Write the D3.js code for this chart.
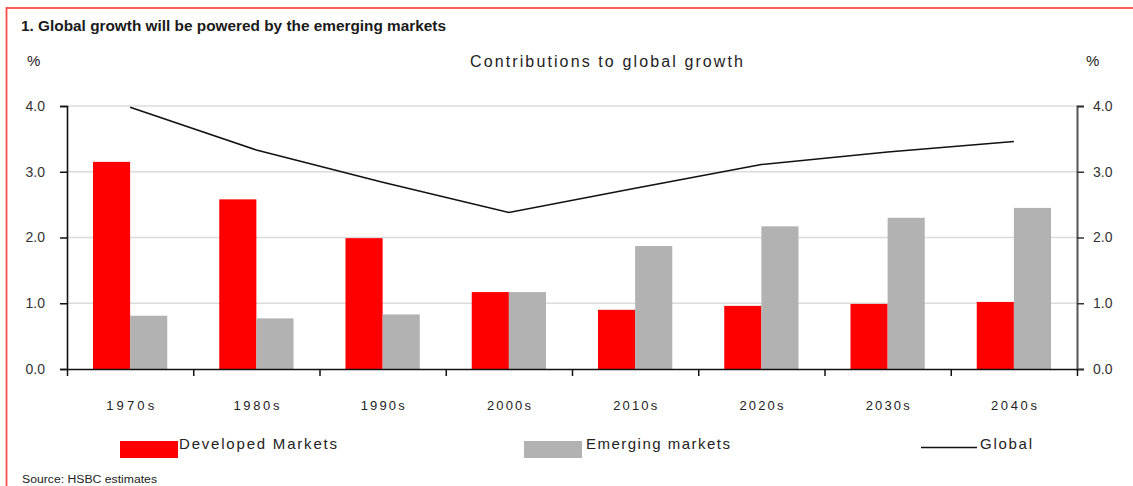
<!DOCTYPE html>
<html><head><meta charset="utf-8">
<script src="https://cdn.jsdelivr.net/npm/d3@7"></script>
<style>
html,body{margin:0;padding:0;background:#fff;}
svg{display:block;font-family:"Liberation Sans",Arial,sans-serif;}
</style></head>
<body>
<svg id="chart" width="1133" height="486"></svg>
<script>
const categories = ["1970s","1980s","1990s","2000s","2010s","2020s","2030s","2040s"];
const developed = [3.15, 2.58, 1.99, 1.17, 0.90, 0.96, 0.99, 1.02];
const emerging  = [0.81, 0.77, 0.83, 1.17, 1.87, 2.17, 2.30, 2.45];
const globalG   = [3.98, 3.33, 2.84, 2.38, 2.75, 3.11, 3.30, 3.46];
const yTicks = [0, 1, 2, 3, 4];
const seriesNames = ["Developed Markets", "Emerging markets", "Global"];
const labelWidths = [48, 46, 44, 44, 44, 44, 44, 46];

(function () {
const svg = d3.select("#chart");
const pLeft = 67, pRight = 1077, pTop = 106, pBottom = 369;

// red frame
svg.append("rect").attr("x", 6.5).attr("y", 8).attr("width", 1140).attr("height", 500)
  .attr("fill", "none").attr("stroke", "#ff4b4b").attr("stroke-width", 1.8);

// titles
svg.append("text").attr("x", 21).attr("y", 31).attr("font-size", 14).attr("font-weight", "bold")
  .attr("fill", "#1a1a1a").attr("textLength", 425).attr("lengthAdjust", "spacingAndGlyphs")
  .text("1. Global growth will be powered by the emerging markets");
svg.append("text").attr("x", 27).attr("y", 66).attr("font-size", 15).attr("fill", "#222").text("%");
svg.append("text").attr("x", 1086).attr("y", 66).attr("font-size", 15).attr("fill", "#222").text("%");
svg.append("text").attr("x", 470).attr("y", 67).attr("font-size", 16).attr("fill", "#222")
  .attr("textLength", 273).attr("lengthAdjust", "spacing").text("Contributions to global growth");

const x0 = d3.scaleBand().domain(categories).range([pLeft, pRight]).paddingInner(0).paddingOuter(0);
const x1 = d3.scaleBand().domain([0, 1]).range([0, x0.bandwidth()]).paddingInner(0).paddingOuter(0.7);
const y = d3.scaleLinear().domain([0, 4]).range([pBottom, pTop]);

// gridlines
svg.append("g").selectAll("line").data(yTicks.filter(d => d > 0)).join("line")
  .attr("x1", pLeft).attr("x2", pRight).attr("y1", d => y(d)).attr("y2", d => y(d))
  .attr("stroke", "#dcdcdc").attr("stroke-width", 1.5);

// bars
const data = categories.map((c, i) => ({ c, vals: [developed[i], emerging[i]] }));
const colors = ["#ff0000", "#b2b2b2"];
const groups = svg.append("g").selectAll("g").data(data).join("g")
  .attr("transform", d => `translate(${x0(d.c)},0)`);
groups.selectAll("rect").data(d => d.vals.map((v, k) => ({ v, k }))).join("rect")
  .attr("x", d => x1(d.k)).attr("width", x1.bandwidth())
  .attr("y", d => y(d.v)).attr("height", d => y(0) - y(d.v))
  .attr("fill", d => colors[d.k]);

// line
const line = d3.line().x((d, i) => x0(categories[i]) + x0.bandwidth() / 2).y(d => y(d));
svg.append("path").datum(globalG).attr("d", line).attr("fill", "none")
  .attr("stroke", "#111").attr("stroke-width", 1.6);

// left axis
const ly = svg.append("g").attr("transform", `translate(${pLeft},0)`)
  .call(d3.axisLeft(y).tickValues(yTicks).tickFormat(d3.format(".1f")).tickSize(7).tickPadding(15));
ly.select(".domain").attr("stroke", "#111").attr("stroke-width", 1.6);
ly.selectAll(".tick line").attr("stroke", "#111").attr("stroke-width", 1.5);
ly.selectAll("text").attr("font-size", 14).attr("fill", "#333").attr("font-family", "Liberation Sans, Arial, sans-serif");

// right axis
const ry = svg.append("g").attr("transform", `translate(${pRight},0)`)
  .call(d3.axisRight(y).tickValues(yTicks).tickFormat(d3.format(".1f")).tickSize(7).tickPadding(9));
ry.select(".domain").attr("stroke", "#555").attr("stroke-width", 2);
ry.selectAll(".tick line").attr("stroke", "#333").attr("stroke-width", 1.5);
ry.selectAll("text").attr("font-size", 14).attr("fill", "#333").attr("font-family", "Liberation Sans, Arial, sans-serif");

// bottom axis (boundary ticks)
const xb = d3.scaleLinear().domain([0, categories.length]).range([pLeft, pRight]);
const bx = svg.append("g").attr("transform", `translate(0,${pBottom})`)
  .call(d3.axisBottom(xb).ticks(categories.length).tickFormat("").tickSize(7).tickSizeOuter(0));
bx.select(".domain").attr("stroke", "#111").attr("stroke-width", 1.6);
bx.selectAll(".tick line").attr("stroke", "#111").attr("stroke-width", 1.5);

// category labels
const lx = svg.append("g").attr("transform", `translate(0,${pBottom})`)
  .call(d3.axisBottom(x0).tickSize(0).tickPadding(32));
lx.select(".domain").remove();
lx.selectAll("text").attr("font-size", 13).attr("fill", "#222")
  .attr("font-family", "Liberation Sans, Arial, sans-serif")
  .attr("textLength", (d, i) => labelWidths[i]).attr("lengthAdjust", "spacing");

// legend
const lg = svg.append("g");
lg.append("rect").attr("x", 120).attr("y", 441).attr("width", 58).attr("height", 17).attr("fill", colors[0]);
lg.append("text").attr("x", 179).attr("y", 449).attr("font-size", 15).attr("fill", "#222")
  .attr("textLength", 158).attr("lengthAdjust", "spacing").text(seriesNames[0]);
lg.append("rect").attr("x", 524).attr("y", 441).attr("width", 58).attr("height", 17).attr("fill", colors[1]);
lg.append("text").attr("x", 586).attr("y", 449).attr("font-size", 15).attr("fill", "#222")
  .attr("textLength", 144).attr("lengthAdjust", "spacing").text(seriesNames[1]);
lg.append("line").attr("x1", 921).attr("x2", 977).attr("y1", 447.5).attr("y2", 447.5)
  .attr("stroke", "#111").attr("stroke-width", 1.6);
lg.append("text").attr("x", 980).attr("y", 449).attr("font-size", 15).attr("fill", "#222")
  .attr("textLength", 52).attr("lengthAdjust", "spacing").text(seriesNames[2]);

// source
svg.append("text").attr("x", 22).attr("y", 483).attr("font-size", 10).attr("fill", "#222")
  .attr("textLength", 135).attr("lengthAdjust", "spacingAndGlyphs").text("Source: HSBC estimates");
})();
</script>
</body></html>
